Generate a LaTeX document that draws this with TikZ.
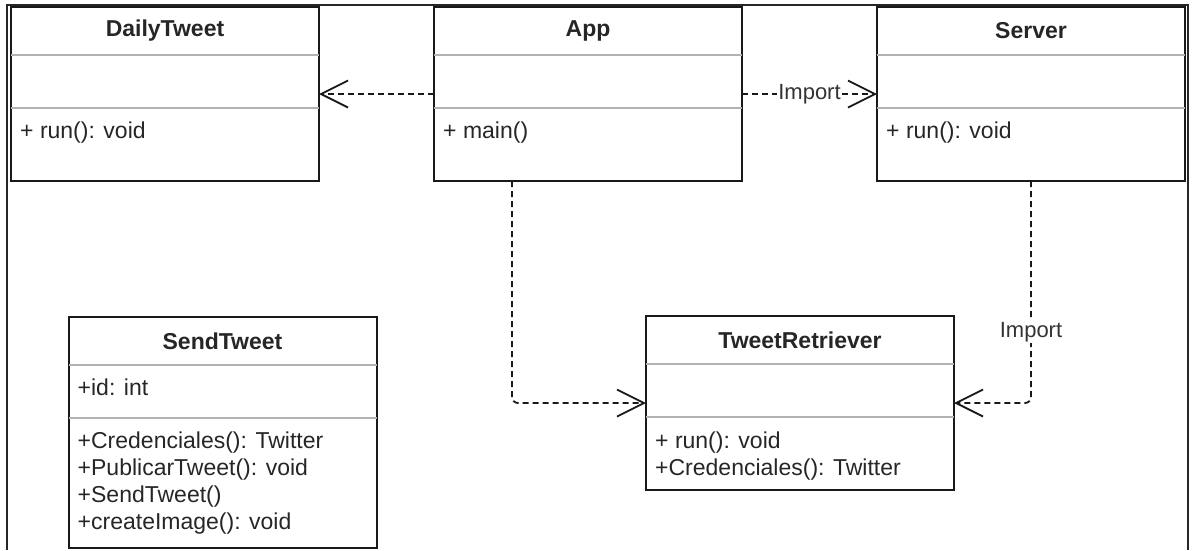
\documentclass[tikz,border=0pt]{standalone}
\usepackage{fontspec}
\setmainfont{Liberation Sans}
\usetikzlibrary{arrows.meta}

\begin{document}
\begin{tikzpicture}[
    x=1pt, y=-1pt,
    classbox/.style={rectangle, draw=black!90, line width=2pt, minimum width=308pt, inner sep=0pt, outer sep=0pt},
    sepline/.style={draw=black!30, line width=1.6pt},
    classtitle/.style={font=\fontsize{23}{27}\selectfont\bfseries, text=black!85, inner sep=0pt},
    member/.style={font=\fontsize{23}{27}\selectfont, text=black!85, anchor=west, inner sep=0pt, text height=16pt, text depth=5pt},
    deparrow/.style={-{Straight Barb[length=27pt, width=27pt, line width=1.8pt]}, dash pattern=on 6pt off 4pt, line width=1.8pt, black!90},
    deplabel/.style={font=\fontsize{22}{26}\selectfont, text=black!80, fill=white, inner sep=1pt},
    frameline/.style={draw=black!85, line width=2pt},
]
\path[use as bounding box] (0,0) rectangle (1196,550);

% Frame
\draw[frameline] (7,550) -- (7,5) -- (1188,5) -- (1188,550);

% Classes
\node[classbox, minimum height=174pt] (daily) at (165,94) {};
\node[classbox, minimum height=174pt] (app) at (588,94) {};
\node[classbox, minimum height=174pt] (server) at (1031,94) {};
\node[classbox, minimum height=231pt] (send) at (222.5,432.5) {};
\node[classbox, minimum height=174pt] (retr) at (800,403) {};

% Compartments
\foreach \c in {daily,app,server,send,retr} {
    \draw[sepline] ([yshift=-48pt]\c.north west) -- ([yshift=-48pt]\c.north east);
    \draw[sepline] ([yshift=-101pt]\c.north west) -- ([yshift=-101pt]\c.north east);
}

% Titles
\foreach \c/\t in {daily/DailyTweet, app/App, server/Server, send/SendTweet, retr/TweetRetriever} {
    \node[classtitle] (\c-title) at ([yshift=-24pt]\c.north) {\t};
}

% Members
\node[member] (daily-m1) at ([xshift=9pt, yshift=-126pt]daily.north west) {+ run(): void};
\node[member] (app-m1) at ([xshift=9pt, yshift=-126pt]app.north west) {+ main()};
\node[member] (server-m1) at ([xshift=9pt, yshift=-126pt]server.north west) {+ run(): void};
\node[member] (send-a1) at ([xshift=9pt, yshift=-73pt]send.north west) {+id: int};
\foreach \m [count=\i] in {+Credenciales(): Twitter, +PublicarTweet(): void, +SendTweet(), +createImage(): void} {
    \node[member] (send-m\i) at ([xshift=9pt, yshift={-126pt-27pt*(\i-1)}]send.north west) {\m};
}
\node[member] (retr-m1) at ([xshift=9pt, yshift=-127pt]retr.north west) {+ run(): void};
\node[member] (retr-m2) at ([xshift=9pt, yshift=-154pt]retr.north west) {+Credenciales(): Twitter};

% Dependencies
\draw[deparrow] (app) -- (daily);
\draw[deparrow] (app) -- node[deplabel] (imp1) {Import} (server);
\draw[deparrow, rounded corners=6pt] ([xshift=-76pt]app.south) |- (retr.west);
\draw[deparrow, rounded corners=6pt] (server.south) |- node[deplabel, pos=0.34] (imp2) {Import} (retr.east);
\end{tikzpicture}
\end{document}
